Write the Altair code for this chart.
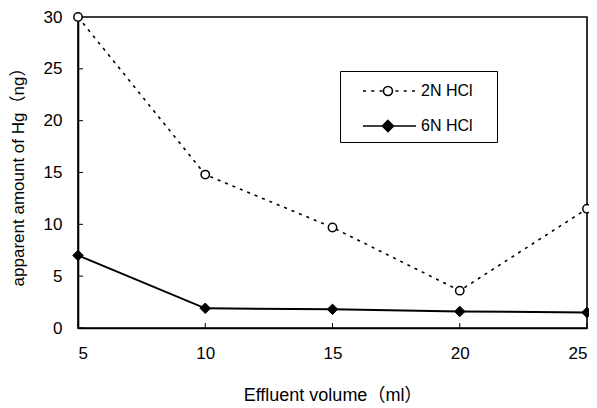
import altair as alt
import pandas as pd

volume = [5, 10, 15, 20, 25]
hcl_2n = [30.0, 14.8, 9.7, 3.6, 11.5]
hcl_6n = [7.0, 1.9, 1.8, 1.6, 1.5]
series_names = ["2N HCl", "6N HCl"]
x_ticks = [5, 10, 15, 20, 25]
y_ticks = [0, 5, 10, 15, 20, 25, 30]

df = pd.DataFrame({
    "volume": volume + volume,
    "amount": hcl_2n + hcl_6n,
    "series": [series_names[0]] * len(volume) + [series_names[1]] * len(volume),
})
xt_df = pd.DataFrame({"volume": x_ticks})
yt_df = pd.DataFrame({"amount": y_ticks})

FONT = "Liberation Sans, Noto Sans CJK JP"
W, H = 509, 311


def dashes(start, stop, dash, period):
    parts = []
    p = start
    while p < stop - 1e-6:
        q = min(p + dash, stop)
        parts.append(f"M{p:.3f},0H{q:.3f}")
        p += period
    return "".join(parts)


# legend symbol glyphs (unit = half the symbol box)
mc = 2.33
r = 0.375
circle_path = (dashes(0.25, mc - r - 0.05, 0.25, 0.69) + dashes(mc + r + 0.25, 4.6, 0.25, 0.69)
               + f"M{mc + r:.3f},0A{r},{r} 0 1,1 {mc - r:.3f},0A{r},{r} 0 1,1 {mc + r:.3f},0Z")
d = 0.46
diamond_path = (f"M0.25,0H{mc - d:.3f}M{mc + d:.3f},0H4.67"
                f"M{mc:.3f},{-d}L{mc + d:.3f},0L{mc:.3f},{d}L{mc - d:.3f},0Z")

x_scale = alt.Scale(domain=[5, 25], nice=False, zero=False)
y_scale = alt.Scale(domain=[0, 30], nice=False)

x_enc = alt.X(
    "volume:Q", scale=x_scale,
    axis=alt.Axis(values=x_ticks, title="Effluent volume（ml）", grid=False,
                  ticks=False, labelPadding=17, titlePadding=25, titleFontSize=18),
)
y_enc = alt.Y(
    "amount:Q", scale=y_scale,
    axis=alt.Axis(values=y_ticks, title="apparent amount of Hg（ng）", grid=False,
                  ticks=False, labelPadding=16, titlePadding=16, titleFontSize=17),
)

base = alt.Chart(df)

line_2n = base.transform_filter(alt.datum.series == series_names[0]).mark_line(
    color="black", strokeWidth=1.6, strokeDash=[3, 5], clip=False
).encode(x=x_enc, y=y_enc)
line_6n = base.transform_filter(alt.datum.series == series_names[1]).mark_line(
    color="black", strokeWidth=2, clip=False
).encode(x=x_enc, y=y_enc)
pts_2n = base.transform_filter(alt.datum.series == series_names[0]).mark_point(
    shape="circle", size=70, filled=True, fill="white", stroke="black", strokeWidth=1.5,
    opacity=1, clip=False
).encode(x=x_enc, y=y_enc)
pts_6n = base.transform_filter(alt.datum.series == series_names[1]).mark_point(
    shape="diamond", size=110, filled=True, fill="black", stroke="black", strokeWidth=1,
    opacity=1, clip=False
).encode(x=x_enc, y=y_enc)

xticks_layer = alt.Chart(xt_df).mark_rule(color="black", strokeWidth=1).encode(
    x=alt.X("volume:Q", scale=x_scale), y=alt.value(H), y2=alt.value(H - 5)
)
yticks_layer = alt.Chart(yt_df).mark_rule(color="black", strokeWidth=1).encode(
    y=alt.Y("amount:Q", scale=y_scale), x=alt.value(0), x2=alt.value(5)
)

# blank spacer title on the right side widens the legend box like the reference
leg = alt.Legend(title="M", titleOrient="right", titleColor="white", titleFontSize=16,
                 titlePadding=3)
legend_layer = base.transform_filter("false").mark_point(
    filled=True, strokeWidth=1.6, opacity=1
).encode(
    x=x_enc, y=y_enc,
    shape=alt.Shape("series:N", scale=alt.Scale(domain=series_names, range=[circle_path, diamond_path]),
                    legend=leg),
    fill=alt.Fill("series:N", scale=alt.Scale(domain=series_names, range=["white", "black"]),
                  legend=leg),
    stroke=alt.Stroke("series:N", scale=alt.Scale(domain=series_names, range=["black", "black"]),
                      legend=leg),
)

chart = alt.layer(xticks_layer, yticks_layer, line_2n, line_6n, pts_2n, pts_6n, legend_layer).properties(
    width=W, height=H,
    padding={"left": 70, "top": 9, "right": 2, "bottom": 80},
    autosize=alt.AutoSizeParams(type="none"),
).configure_view(
    stroke="black", strokeWidth=1.6
).configure_axis(
    labelFont=FONT, titleFont=FONT, labelFontSize=17,
    labelColor="black", titleColor="black", titleFontWeight="normal",
    domainColor="black", domainWidth=1.6,
).configure_legend(
    orient="none", legendX=262, legendY=54,
    strokeColor="black", fillColor="white", padding=7,
    symbolSize=24 * 24, symbolStrokeWidth=1.6, symbolStrokeColor="black",
    labelFont=FONT, labelFontSize=16, labelColor="black", labelOffset=48,
    rowPadding=14,
)

chart.save("out.html", embed_options={"renderer": "svg", "actions": False})
